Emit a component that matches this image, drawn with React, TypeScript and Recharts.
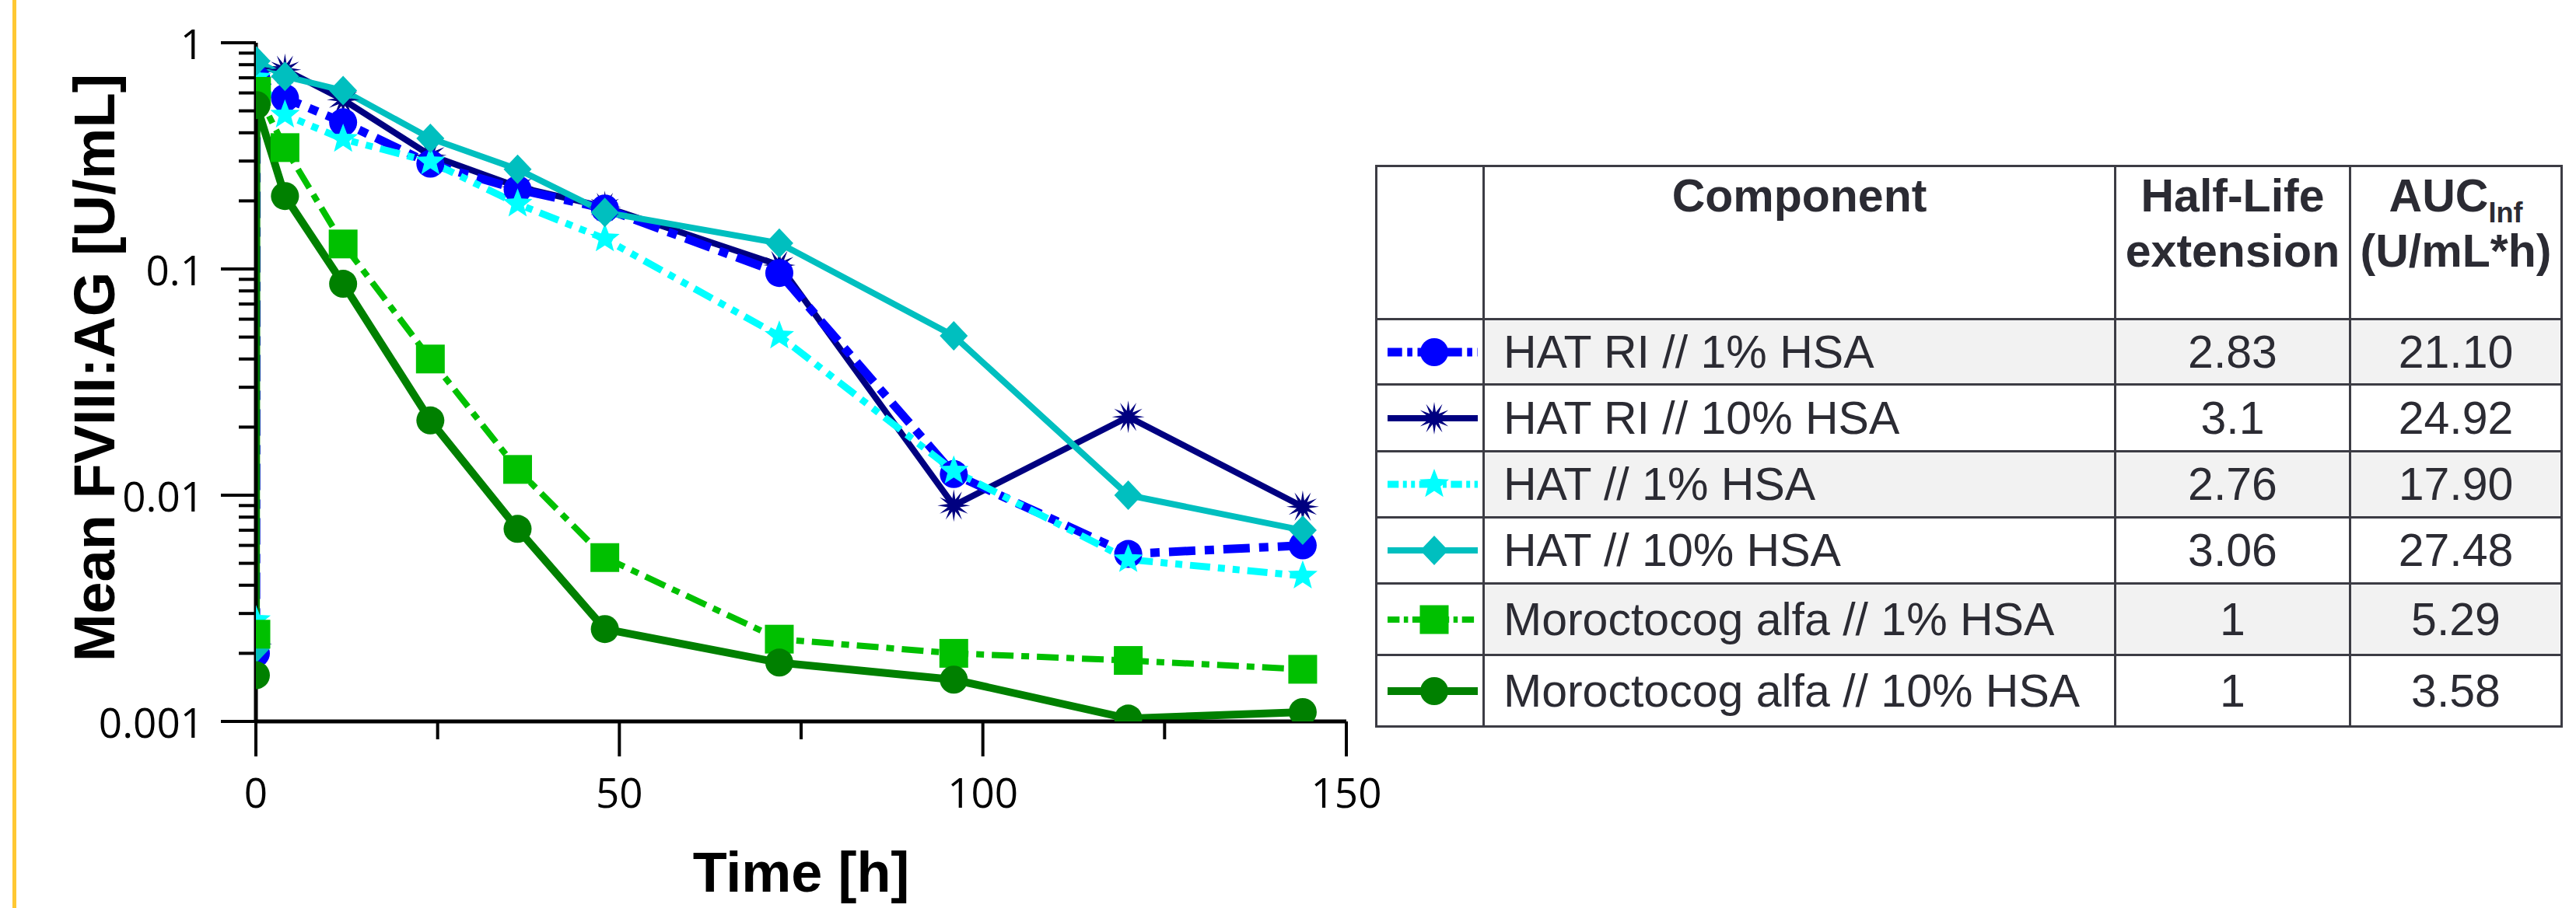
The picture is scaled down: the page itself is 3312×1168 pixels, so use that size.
import { Legend, Line, LineChart, XAxis, YAxis } from "recharts";

// sampling times [h]
const times = [0, 0.083, 4, 12, 24, 36, 48, 72, 96, 120, 144];

// mean FVIII:AG [U/mL] per formulation
const hatRi1 = [0.002, 0.69, 0.57, 0.445, 0.292, 0.225, 0.185, 0.096, 0.0124, 0.0055, 0.006];
const hatRi10 = [0.0022, 0.77, 0.76, 0.56, 0.318, 0.231, 0.188, 0.104, 0.009, 0.0222, 0.0089];
const hat1 = [0.0028, 0.7, 0.48, 0.375, 0.298, 0.194, 0.136, 0.0506, 0.0128, 0.0052, 0.0044];
const hat10 = [0.0021, 0.83, 0.71, 0.615, 0.378, 0.276, 0.178, 0.13, 0.0506, 0.01, 0.007];
const moro1 = [0.00243, 0.61, 0.344, 0.129, 0.04, 0.013, 0.0053, 0.00231, 0.002, 0.00186, 0.0017];
const moro10 = [0.0016, 0.53, 0.21, 0.086, 0.0214, 0.0071, 0.00256, 0.00182, 0.00153, 0.00103, 0.0011];

const seriesNames = [
  "HAT RI // 1% HSA",
  "HAT RI // 10% HSA",
  "HAT // 1% HSA",
  "HAT // 10% HSA",
  "Moroctocog alfa // 1% HSA",
  "Moroctocog alfa // 10% HSA",
];
const halfLifeExtension = ["2.83", "3.1", "2.76", "3.06", "1", "1"];
const aucInf = ["21.10", "24.92", "17.90", "27.48", "5.29", "3.58"];

const xTicks = [0, 25, 50, 75, 100, 125, 150];
const xTickLabels = ["0", "", "50", "", "100", "", "150"];
const yDecades = [0.001, 0.01, 0.1, 1];
const yDecadeLabels = ["0.001", "0.01", "0.1", "1"];
const yMinorSteps = [2, 3, 4, 5, 6, 7, 8, 9];

const yTicks: number[] = [];
yDecades.forEach((d, i) => {
  yTicks.push(d);
  if (i < yDecades.length - 1) yMinorSteps.forEach((m) => yTicks.push(d * m));
});

const data = times.map((t, i) => ({
  t,
  hatRi1: hatRi1[i],
  hatRi10: hatRi10[i],
  hat1: hat1[i],
  hat10: hat10[i],
  moro1: moro1[i],
  moro10: moro10[i],
}));

type Kind = "circle" | "burst" | "star" | "diamond" | "square";

const series: { key: string; color: string; width: number; dash?: string; marker: Kind }[] = [
  { key: "hatRi10", color: "#000080", width: 8, marker: "burst" },
  { key: "hatRi1", color: "#0000FF", width: 11, dash: "34 12 12 12", marker: "circle" },
  { key: "hat1", color: "#00FFFF", width: 9, dash: "26 10 9 10 9 10", marker: "star" },
  { key: "hat10", color: "#00BFBF", width: 8, marker: "diamond" },
  { key: "moro1", color: "#00C000", width: 8, dash: "28 10 10 10", marker: "square" },
  { key: "moro10", color: "#008000", width: 10, marker: "circle" },
];
// legend order matches seriesNames
const legendOrder = ["hatRi1", "hatRi10", "hat1", "hat10", "moro1", "moro10"];

function starPoints(cx: number, cy: number, n: number, ro: number, ri: number) {
  const pts: string[] = [];
  for (let i = 0; i < n * 2; i++) {
    const r = i % 2 === 0 ? ro : ri;
    const a = -Math.PI / 2 + (i * Math.PI) / n;
    pts.push(`${cx + r * Math.cos(a)},${cy + r * Math.sin(a)}`);
  }
  return pts.join(" ");
}

function Marker({ kind, cx, cy, color }: { kind: Kind; cx: number; cy: number; color: string }) {
  if (cx == null || cy == null) return null;
  switch (kind) {
    case "circle":
      return <circle cx={cx} cy={cy} r={18} fill={color} />;
    case "square":
      return <rect x={cx - 18.5} y={cy - 18.5} width={37} height={37} fill={color} />;
    case "diamond":
      return (
        <polygon
          points={`${cx},${cy - 19} ${cx + 18},${cy} ${cx},${cy + 19} ${cx - 18},${cy}`}
          fill={color}
        />
      );
    case "star":
      return <polygon points={starPoints(cx, cy, 5, 20, 8.5)} fill={color} />;
    default:
      return <polygon points={starPoints(cx, cy, 12, 21, 8)} fill={color} />;
  }
}

const tickFont = "'Open Sans', 'Noto Sans', sans-serif";
const titleFont = "'Liberation Sans', Arial, sans-serif";

function YTick(props: any) {
  const { x, y, payload } = props;
  const v = payload.value;
  const idx = yDecades.findIndex((d) => Math.abs(d - v) / d < 1e-6);
  const major = idx >= 0;
  return (
    <g>
      <line x1={x - (major ? 45 : 22)} y1={y} x2={x} y2={y} stroke="#000" strokeWidth={4} />
      {major && (
        <text
          x={x - 67}
          y={y}
          textAnchor="end"
          dominantBaseline="central"
          fontFamily={tickFont}
          fontSize={53}
          fill="#000"
        >
          {yDecadeLabels[idx]}
        </text>
      )}
    </g>
  );
}

function XTick(props: any) {
  const { x, y, payload } = props;
  const idx = xTicks.indexOf(payload.value);
  const label = xTickLabels[idx];
  const major = label !== "";
  return (
    <g>
      <line x1={x} y1={y} x2={x} y2={y + (major ? 45 : 23)} stroke="#000" strokeWidth={4} />
      {major && (
        <text
          x={x}
          y={y + 90}
          textAnchor="middle"
          dominantBaseline="central"
          fontFamily={tickFont}
          fontSize={53}
          fill="#000"
        >
          {label}
        </text>
      )}
    </g>
  );
}

function LegendIcon({ s }: { s: (typeof series)[number] }) {
  return (
    <svg width={134} height={60} style={{ display: "block", margin: "0 auto" }}>
      <line
        x1={12}
        y1={30}
        x2={128}
        y2={30}
        stroke={s.color}
        strokeWidth={s.width}
        strokeDasharray={s.dash ? s.dash.split(" ").map((d) => Number(d) * 0.55).join(" ") : undefined}
      />
      <Marker kind={s.marker} cx={72} cy={30} color={s.color} />
    </svg>
  );
}

const rowHeights = [84, 86, 85, 85, 92, 92];
const border = "3px solid #3c3c44";

function SummaryTable() {
  const cell: React.CSSProperties = { border, padding: 0, whiteSpace: "nowrap" };
  return (
    <table
      style={{
        borderCollapse: "collapse",
        tableLayout: "fixed",
        width: 1524,
        fontFamily: titleFont,
        fontSize: 59,
        color: "#2b2b33",
        background: "#fff",
      }}
    >
      <colgroup>
        <col style={{ width: 138 }} />
        <col style={{ width: 812 }} />
        <col style={{ width: 302 }} />
        <col style={{ width: 272 }} />
      </colgroup>
      <thead>
        <tr style={{ height: 197 }}>
          <th style={cell}></th>
          {[
            <>Component</>,
            <>
              Half-Life
              <br />
              extension
            </>,
            <>
              AUC
              <span style={{ fontSize: 36, position: "relative", top: 14, lineHeight: 0 }}>Inf</span>
              <br />
              (U/mL*h)
            </>,
          ].map((h, i) => (
            <th
              key={i}
              style={{ ...cell, verticalAlign: "top", textAlign: "center", lineHeight: "71px", paddingTop: 2 }}
            >
              {h}
            </th>
          ))}
        </tr>
      </thead>
      <tbody>
        {legendOrder.map((key, i) => {
          const s = series.find((x) => x.key === key)!;
          const bg = i % 2 === 0 ? "#f2f2f2" : "#fff";
          return (
            <tr key={key} style={{ height: rowHeights[i] }}>
              <td style={{ ...cell, background: "#fff" }}>
                <LegendIcon s={s} />
              </td>
              <td style={{ ...cell, background: bg, paddingLeft: 24 }}>{seriesNames[i]}</td>
              <td style={{ ...cell, background: bg, textAlign: "center" }}>{halfLifeExtension[i]}</td>
              <td style={{ ...cell, background: bg, textAlign: "center" }}>{aucInf[i]}</td>
            </tr>
          );
        })}
      </tbody>
    </table>
  );
}

export default function App() {
  return (
    <div style={{ position: "absolute", left: 0, top: 0, width: 3312, height: 1168, background: "#fff" }}>
      <div
        style={{ position: "absolute", left: 16, top: 0, width: 5, height: 1168, background: "#FFC833" }}
      />
      <LineChart
        width={3312}
        height={1168}
        data={data}
        margin={{ top: 55, right: 1581, bottom: 0, left: 0 }}
      >
        <XAxis
          dataKey="t"
          type="number"
          domain={[0, 150]}
          ticks={xTicks}
          interval={0}
          allowDataOverflow
          height={240}
          tickLine={false}
          tickSize={0}
          tickMargin={0}
          tick={<XTick />}
          axisLine={{ stroke: "#000", strokeWidth: 5 }}
          label={(p: any) => {
            const vb = p.viewBox;
            return (
              <text
                x={vb.x + vb.width / 2}
                y={vb.y + 219}
                textAnchor="middle"
                fontFamily={titleFont}
                fontWeight="bold"
                fontSize={72}
                fill="#000"
              >
                Time [h]
              </text>
            );
          }}
        />
        <YAxis
          type="number"
          scale="log"
          domain={[0.001, 1]}
          ticks={yTicks}
          interval={0}
          allowDataOverflow
          width={329}
          tickLine={false}
          tickSize={0}
          tickMargin={0}
          tick={<YTick />}
          axisLine={{ stroke: "#000", strokeWidth: 5 }}
          label={(p: any) => {
            const vb = p.viewBox;
            const cx = vb.x + 147;
            const cy = 473;
            return (
              <text
                x={cx}
                y={cy}
                transform={`rotate(-90, ${cx}, ${cy})`}
                textAnchor="middle"
                fontFamily={titleFont}
                fontWeight="bold"
                fontSize={74}
                fill="#000"
              >
                Mean FVIII:AG [U/mL]
              </text>
            );
          }}
        />
        <Legend
          layout="horizontal"
          align="center"
          verticalAlign="middle"
          wrapperStyle={{ position: "absolute", left: 1768, top: 212, width: 1526 }}
          content={() => <SummaryTable />}
        />
        {series.map((s) => (
          <Line
            key={s.key}
            dataKey={s.key}
            type="linear"
            stroke={s.color}
            strokeWidth={s.width}
            strokeDasharray={s.dash}
            isAnimationActive={false}
            dot={(p: any) => (
              <Marker key={`${s.key}-${p.index}`} kind={s.marker} cx={p.cx} cy={p.cy} color={s.color} />
            )}
            activeDot={false}
          />
        ))}
      </LineChart>
    </div>
  );
}
